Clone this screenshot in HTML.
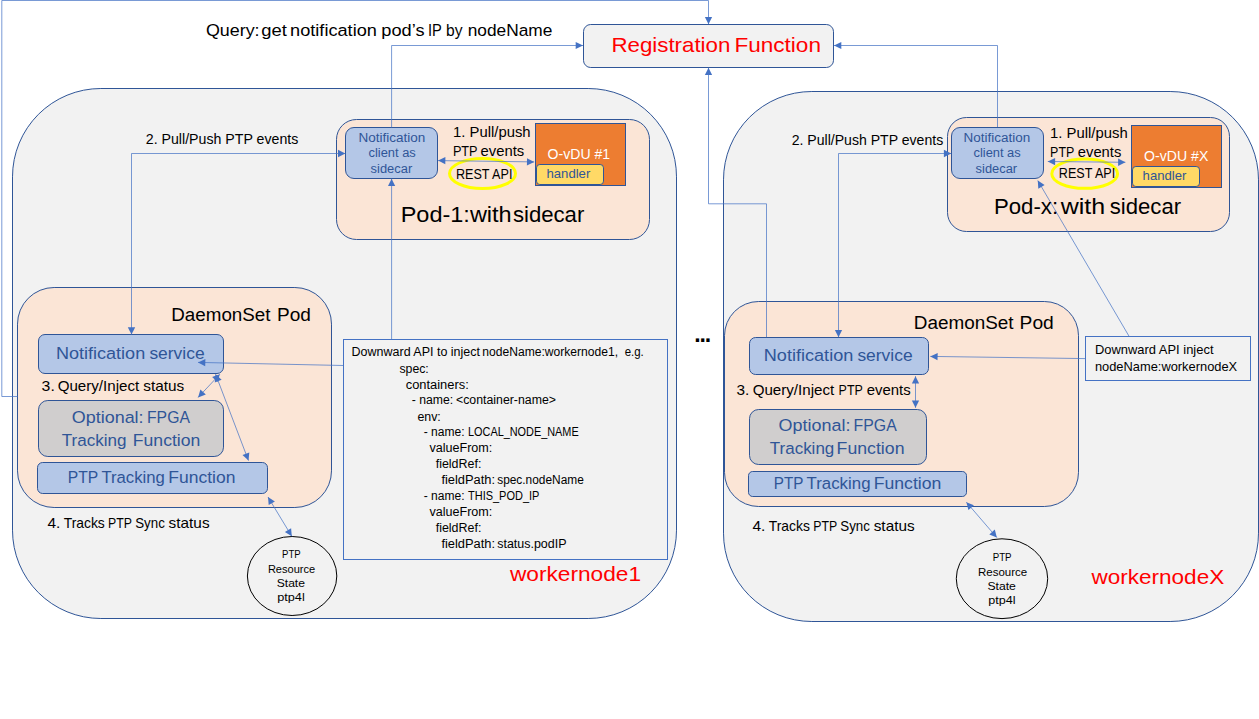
<!DOCTYPE html>
<html lang="en">
<head>
<meta charset="utf-8">
<title>PTP notification architecture</title>
<style>
html,body{margin:0;padding:0;background:#fff;}
body{width:1259px;height:719px;overflow:hidden;}
svg{display:block;}
svg text{font-family:"Liberation Sans",sans-serif;white-space:pre;}
</style>
</head>
<body>
<svg width="1259" height="719" viewBox="0 0 1259 719">
<rect x="0" y="0" width="1259" height="719" fill="#fff"/>
<rect x="12.5" y="88.5" width="664.0" height="530.0" rx="88.34" ry="88.34" fill="#F2F2F2" stroke="#2F5597" stroke-width="1"/>
<rect x="723.5" y="91.5" width="535.0" height="530.0" rx="88.34" ry="88.34" fill="#F2F2F2" stroke="#2F5597" stroke-width="1"/>
<rect x="583.5" y="24.5" width="250.0" height="43.0" rx="7.17" ry="7.17" fill="#F2F2F2" stroke="#2F5597" stroke-width="1"/>
<rect x="336.5" y="119.5" width="313.0" height="120.0" rx="20.0" ry="20.0" fill="#FBE5D6" stroke="#2F5597" stroke-width="1"/>
<rect x="947.5" y="117.5" width="282.0" height="114.0" rx="19.0" ry="19.0" fill="#FBE5D6" stroke="#2F5597" stroke-width="1"/>
<rect x="17.5" y="287.5" width="314.0" height="220.0" rx="36.67" ry="36.67" fill="#FBE5D6" stroke="#2F5597" stroke-width="1"/>
<rect x="724.5" y="301.5" width="354.0" height="205.0" rx="34.17" ry="34.17" fill="#FBE5D6" stroke="#2F5597" stroke-width="1"/>
<rect x="343.5" y="339.5" width="324" height="220" fill="#F2F2F2" stroke="#4472C4" stroke-width="1"/>
<rect x="1085.5" y="336.5" width="165" height="44" fill="#F2F2F2" stroke="#4472C4" stroke-width="1"/>
<rect x="345.5" y="127.5" width="92.0" height="51.0" rx="8.5" ry="8.5" fill="#B4C7E7" stroke="#2F5597" stroke-width="1"/>
<rect x="951.5" y="127.5" width="92.0" height="51.0" rx="8.5" ry="8.5" fill="#B4C7E7" stroke="#2F5597" stroke-width="1"/>
<rect x="535.5" y="123.5" width="90" height="62" fill="#ED7D31" stroke="#2F5597" stroke-width="1"/>
<rect x="1131.5" y="125.5" width="90" height="62" fill="#ED7D31" stroke="#2F5597" stroke-width="1"/>
<rect x="536.5" y="164.5" width="67.0" height="20.0" rx="3.33" ry="3.33" fill="#FFD966" stroke="#2F5597" stroke-width="1"/>
<rect x="1132.5" y="166.5" width="67.0" height="20.0" rx="3.33" ry="3.33" fill="#FFD966" stroke="#2F5597" stroke-width="1"/>
<ellipse cx="482.5" cy="173.6" rx="33" ry="15" fill="none" stroke="#FFFF00" stroke-width="3"/>
<ellipse cx="1084.7" cy="173.7" rx="32.9" ry="14.6" fill="none" stroke="#FFFF00" stroke-width="3"/>
<rect x="38.5" y="334.5" width="185.0" height="39.0" rx="6.5" ry="6.5" fill="#B4C7E7" stroke="#2F5597" stroke-width="1"/>
<rect x="749.5" y="337.5" width="179.0" height="37.0" rx="6.17" ry="6.17" fill="#B4C7E7" stroke="#2F5597" stroke-width="1"/>
<rect x="38.5" y="400.5" width="185.0" height="56.0" rx="9.33" ry="9.33" fill="#D0CECE" stroke="#2F5597" stroke-width="1"/>
<rect x="749.5" y="409.5" width="177.0" height="55.0" rx="9.17" ry="9.17" fill="#D0CECE" stroke="#2F5597" stroke-width="1"/>
<rect x="37.5" y="462.5" width="230.0" height="31.0" rx="5.17" ry="5.17" fill="#B4C7E7" stroke="#2F5597" stroke-width="1"/>
<rect x="748.5" y="471.5" width="218.0" height="25.0" rx="4.17" ry="4.17" fill="#B4C7E7" stroke="#2F5597" stroke-width="1"/>
<ellipse cx="292.1" cy="576" rx="44.7" ry="39.5" fill="#F2F2F2" stroke="#000" stroke-width="1"/>
<ellipse cx="1002" cy="578.7" rx="45.7" ry="39.9" fill="#F2F2F2" stroke="#000" stroke-width="1"/>
<polyline points="17.5,396.5 1.8,396.5 1.8,0.5 708.5,0.5 708.5,24.2" fill="none" stroke="#4472C4" stroke-width="0.72"/>
<polygon points="708.5,24.2 704.9,16.9 712.1,16.9" fill="#4472C4"/>
<polyline points="391.6,127.5 391.6,45.5 583,45.5" fill="none" stroke="#4472C4" stroke-width="0.72"/>
<polygon points="583.0,45.5 575.7,49.1 575.7,41.9" fill="#4472C4"/>
<polyline points="997.5,127 997.5,45.5 834,45.5" fill="none" stroke="#4472C4" stroke-width="0.72"/>
<polygon points="834.0,45.5 841.3,41.9 841.3,49.1" fill="#4472C4"/>
<polyline points="766.5,337.2 766.5,203.8 708.5,203.8 708.5,67.7" fill="none" stroke="#4472C4" stroke-width="0.72"/>
<polygon points="708.5,67.7 712.1,75.0 704.9,75.0" fill="#4472C4"/>
<polyline points="131.5,334.5 131.5,153.5 345.3,153.5" fill="none" stroke="#4472C4" stroke-width="0.72"/>
<polygon points="345.3,153.5 338.0,157.2 338.0,149.8" fill="#4472C4"/>
<polygon points="131.5,334.5 127.8,327.2 135.2,327.2" fill="#4472C4"/>
<polyline points="838.5,337.2 838.5,153.5 951.2,153.5" fill="none" stroke="#4472C4" stroke-width="0.72"/>
<polygon points="951.2,153.5 943.9,157.2 943.9,149.8" fill="#4472C4"/>
<polygon points="838.5,337.2 834.9,329.9 842.1,329.9" fill="#4472C4"/>
<polyline points="438.1,160.6 534.2,161.9" fill="none" stroke="#4472C4" stroke-width="0.72"/>
<polygon points="534.2,161.9 526.9,165.5 527.0,158.2" fill="#4472C4"/>
<polygon points="438.1,160.6 445.4,157.0 445.3,164.3" fill="#4472C4"/>
<polyline points="1047.8,161.5 1125.4,162.3" fill="none" stroke="#4472C4" stroke-width="0.72"/>
<polygon points="1125.4,162.3 1118.1,165.9 1118.1,158.6" fill="#4472C4"/>
<polygon points="1047.8,161.5 1055.1,157.9 1055.1,165.2" fill="#4472C4"/>
<polyline points="391.6,339.5 391.6,178.7" fill="none" stroke="#4472C4" stroke-width="0.72"/>
<polygon points="391.6,178.7 395.2,186.0 388.0,186.0" fill="#4472C4"/>
<polyline points="343.5,365.5 198,362.4" fill="none" stroke="#4472C4" stroke-width="0.72"/>
<polygon points="198.0,362.4 205.4,358.9 205.2,366.2" fill="#4472C4"/>
<polyline points="1085.5,358.6 930.3,356.4" fill="none" stroke="#4472C4" stroke-width="0.72"/>
<polygon points="930.3,356.4 937.7,352.9 937.5,360.2" fill="#4472C4"/>
<polyline points="1129.2,336.5 1037.8,180.6" fill="none" stroke="#4472C4" stroke-width="0.72"/>
<polygon points="1037.8,180.6 1044.6,185.1 1038.3,188.7" fill="#4472C4"/>
<polyline points="198.1,397.4 219.8,374.3" fill="none" stroke="#4472C4" stroke-width="0.72"/>
<polygon points="219.8,374.3 217.5,382.1 212.1,377.1" fill="#4472C4"/>
<polygon points="198.1,397.4 200.4,389.6 205.8,394.6" fill="#4472C4"/>
<polyline points="215.6,374.3 248.5,460.6" fill="none" stroke="#4472C4" stroke-width="0.72"/>
<polygon points="248.5,460.6 242.5,455.1 249.3,452.5" fill="#4472C4"/>
<polygon points="215.6,374.3 221.6,379.8 214.8,382.4" fill="#4472C4"/>
<polyline points="915.5,376.2 915.5,407.8" fill="none" stroke="#4472C4" stroke-width="0.72"/>
<polygon points="915.5,407.8 911.9,400.5 919.1,400.5" fill="#4472C4"/>
<polygon points="915.5,376.2 919.1,383.5 911.9,383.5" fill="#4472C4"/>
<polyline points="268,497 291.8,536.3" fill="none" stroke="#4472C4" stroke-width="0.72"/>
<polygon points="291.8,536.3 284.9,531.9 291.1,528.2" fill="#4472C4"/>
<polygon points="268.0,497.0 274.9,501.4 268.7,505.1" fill="#4472C4"/>
<polyline points="966.4,502.2 996.8,537.5" fill="none" stroke="#4472C4" stroke-width="0.72"/>
<polygon points="996.8,537.5 989.3,534.4 994.8,529.6" fill="#4472C4"/>
<polygon points="966.4,502.2 973.9,505.3 968.4,510.1" fill="#4472C4"/>
<text y="35.5" font-size="16.7" fill="#000"><tspan x="205.9" textLength="53.7" lengthAdjust="spacingAndGlyphs">Query:</tspan> <tspan x="261.2" textLength="25.6" lengthAdjust="spacingAndGlyphs">get</tspan> <tspan x="290.1" textLength="86.8" lengthAdjust="spacingAndGlyphs">notification</tspan> <tspan x="381.3" textLength="43.2" lengthAdjust="spacingAndGlyphs">pod’s</tspan> <tspan x="427.9" textLength="13.6" lengthAdjust="spacingAndGlyphs">IP</tspan> <tspan x="446.0" textLength="16.5" lengthAdjust="spacingAndGlyphs">by</tspan> <tspan x="467.7" textLength="84.6" lengthAdjust="spacingAndGlyphs">nodeName</tspan></text>
<text x="611.4" y="52.4" font-size="20.4" fill="#FF0000" textLength="119.0" lengthAdjust="spacingAndGlyphs">Registration</text>
<text x="734.4" y="52.4" font-size="20.4" fill="#FF0000" textLength="86.6" lengthAdjust="spacingAndGlyphs">Function</text>
<text x="145.8" y="144" font-size="14.4" fill="#000" textLength="152.5" lengthAdjust="spacingAndGlyphs">2. Pull/Push PTP events</text>
<text x="791.7" y="145" font-size="14.4" fill="#000" textLength="151.5" lengthAdjust="spacingAndGlyphs">2. Pull/Push PTP events</text>
<text x="358.5" y="141.7" font-size="12" fill="#2F5597" textLength="66.9" lengthAdjust="spacingAndGlyphs">Notification</text>
<text x="368.5" y="157.3" font-size="12" fill="#2F5597" textLength="47.3" lengthAdjust="spacingAndGlyphs">client as</text>
<text x="370.6" y="173" font-size="12" fill="#2F5597" textLength="41.6" lengthAdjust="spacingAndGlyphs">sidecar</text>
<text x="963.6" y="141.6" font-size="12" fill="#2F5597" textLength="66.7" lengthAdjust="spacingAndGlyphs">Notification</text>
<text x="973.5" y="156.9" font-size="12" fill="#2F5597" textLength="47.2" lengthAdjust="spacingAndGlyphs">client as</text>
<text x="975.6" y="172.9" font-size="12" fill="#2F5597" textLength="41.5" lengthAdjust="spacingAndGlyphs">sidecar</text>
<text x="453.1" y="137.3" font-size="14.4" fill="#000" textLength="77.5" lengthAdjust="spacingAndGlyphs">1. Pull/push</text>
<text x="452.9" y="155.7" font-size="14.4" fill="#000" textLength="24.7" lengthAdjust="spacingAndGlyphs">PTP</text>
<text x="480.6" y="155.7" font-size="14.4" fill="#000" textLength="43.7" lengthAdjust="spacingAndGlyphs">events</text>
<text x="456.0" y="178.9" font-size="14.4" fill="#000" textLength="56.4" lengthAdjust="spacingAndGlyphs">REST API</text>
<text x="1050.1" y="138.3" font-size="14.4" fill="#000" textLength="77.6" lengthAdjust="spacingAndGlyphs">1. Pull/push</text>
<text x="1050.1" y="156.6" font-size="14.4" fill="#000" textLength="24.2" lengthAdjust="spacingAndGlyphs">PTP</text>
<text x="1077.8" y="156.6" font-size="14.4" fill="#000" textLength="43.5" lengthAdjust="spacingAndGlyphs">events</text>
<text x="1058.8" y="178" font-size="14.4" fill="#000" textLength="56.4" lengthAdjust="spacingAndGlyphs">REST API</text>
<text x="547.6" y="158.9" font-size="14.4" fill="#fff" textLength="62.5" lengthAdjust="spacingAndGlyphs">O-vDU #1</text>
<text x="1144.1" y="160.8" font-size="14.4" fill="#fff" textLength="64.2" lengthAdjust="spacingAndGlyphs">O-vDU #X</text>
<text x="546.5" y="177.9" font-size="13.2" fill="#2F5597" textLength="43.8" lengthAdjust="spacingAndGlyphs">handler</text>
<text x="1142.6" y="179.5" font-size="13.2" fill="#2F5597" textLength="43.7" lengthAdjust="spacingAndGlyphs">handler</text>
<text y="221.5" font-size="21.6" fill="#000"><tspan x="400.7" textLength="111.0" lengthAdjust="spacingAndGlyphs">Pod-1:with</tspan> <tspan x="512.9" textLength="71.4" lengthAdjust="spacingAndGlyphs">sidecar</tspan></text>
<text y="213.5" font-size="21.6" fill="#000"><tspan x="994.0" textLength="64.1" lengthAdjust="spacingAndGlyphs">Pod-x:</tspan> <tspan x="1060.7" textLength="44.5" lengthAdjust="spacingAndGlyphs">with</tspan> <tspan x="1109.8" textLength="71.3" lengthAdjust="spacingAndGlyphs">sidecar</tspan></text>
<text x="171.3" y="320.8" font-size="19.2" fill="#000" textLength="99.2" lengthAdjust="spacingAndGlyphs">DaemonSet</text>
<text x="277.0" y="320.8" font-size="19.2" fill="#000" textLength="33.9" lengthAdjust="spacingAndGlyphs">Pod</text>
<text x="913.8" y="328.6" font-size="19.2" fill="#000" textLength="99.7" lengthAdjust="spacingAndGlyphs">DaemonSet</text>
<text x="1019.6" y="328.6" font-size="19.2" fill="#000" textLength="34.2" lengthAdjust="spacingAndGlyphs">Pod</text>
<text y="358.9" font-size="16.8" fill="#2F5597"><tspan x="55.9" textLength="89.3" lengthAdjust="spacingAndGlyphs">Notification</tspan> <tspan x="149.4" textLength="55.2" lengthAdjust="spacingAndGlyphs">service</tspan></text>
<text y="360.8" font-size="16.8" fill="#2F5597"><tspan x="763.8" textLength="89.5" lengthAdjust="spacingAndGlyphs">Notification</tspan> <tspan x="857.4" textLength="55.2" lengthAdjust="spacingAndGlyphs">service</tspan></text>
<text y="391" font-size="14.4" fill="#000"><tspan x="41.6" textLength="13.2" lengthAdjust="spacingAndGlyphs">3.</tspan> <tspan x="57.7" textLength="81.5" lengthAdjust="spacingAndGlyphs">Query/Inject</tspan> <tspan x="143.3" textLength="41.0" lengthAdjust="spacingAndGlyphs">status</tspan></text>
<text y="394.8" font-size="14.4" fill="#000"><tspan x="736.5" textLength="12.8" lengthAdjust="spacingAndGlyphs">3.</tspan> <tspan x="752.7" textLength="81.5" lengthAdjust="spacingAndGlyphs">Query/Inject</tspan> <tspan x="838.6" textLength="24.0" lengthAdjust="spacingAndGlyphs">PTP</tspan> <tspan x="866.7" textLength="43.9" lengthAdjust="spacingAndGlyphs">events</tspan></text>
<text y="422.9" font-size="16.8" fill="#2F5597"><tspan x="71.8" textLength="71.8" lengthAdjust="spacingAndGlyphs">Optional:</tspan> <tspan x="147.0" textLength="42.9" lengthAdjust="spacingAndGlyphs">FPGA</tspan></text>
<text y="445.8" font-size="16.8" fill="#2F5597"><tspan x="61.8" textLength="64.8" lengthAdjust="spacingAndGlyphs">Tracking</tspan> <tspan x="132.8" textLength="67.6" lengthAdjust="spacingAndGlyphs">Function</tspan></text>
<text y="430.8" font-size="16.8" fill="#2F5597"><tspan x="778.6" textLength="71.8" lengthAdjust="spacingAndGlyphs">Optional:</tspan> <tspan x="853.6" textLength="43.1" lengthAdjust="spacingAndGlyphs">FPGA</tspan></text>
<text y="453.5" font-size="16.8" fill="#2F5597"><tspan x="769.8" textLength="64.5" lengthAdjust="spacingAndGlyphs">Tracking</tspan> <tspan x="836.6" textLength="67.9" lengthAdjust="spacingAndGlyphs">Function</tspan></text>
<text y="482.8" font-size="16.8" fill="#2F5597"><tspan x="67.8" textLength="30.2" lengthAdjust="spacingAndGlyphs">PTP</tspan> <tspan x="101.4" textLength="63.5" lengthAdjust="spacingAndGlyphs">Tracking</tspan> <tspan x="168.3" textLength="67.1" lengthAdjust="spacingAndGlyphs">Function</tspan></text>
<text y="488.6" font-size="16.8" fill="#2F5597"><tspan x="773.8" textLength="29.3" lengthAdjust="spacingAndGlyphs">PTP</tspan> <tspan x="806.6" textLength="63.9" lengthAdjust="spacingAndGlyphs">Tracking</tspan> <tspan x="873.7" textLength="67.7" lengthAdjust="spacingAndGlyphs">Function</tspan></text>
<text y="528.1" font-size="14.4" fill="#000"><tspan x="47.4" textLength="12.9" lengthAdjust="spacingAndGlyphs">4.</tspan> <tspan x="63.7" textLength="41.1" lengthAdjust="spacingAndGlyphs">Tracks</tspan> <tspan x="108.1" textLength="23.7" lengthAdjust="spacingAndGlyphs">PTP</tspan> <tspan x="135.2" textLength="29.6" lengthAdjust="spacingAndGlyphs">Sync</tspan> <tspan x="168.6" textLength="41.0" lengthAdjust="spacingAndGlyphs">status</tspan></text>
<text y="530.5" font-size="14.4" fill="#000"><tspan x="752.5" textLength="12.9" lengthAdjust="spacingAndGlyphs">4.</tspan> <tspan x="768.8" textLength="41.1" lengthAdjust="spacingAndGlyphs">Tracks</tspan> <tspan x="813.2" textLength="23.7" lengthAdjust="spacingAndGlyphs">PTP</tspan> <tspan x="840.3" textLength="29.6" lengthAdjust="spacingAndGlyphs">Sync</tspan> <tspan x="873.7" textLength="41.0" lengthAdjust="spacingAndGlyphs">status</tspan></text>
<text x="282.1" y="557.7" font-size="10.8" fill="#000" textLength="18.6" lengthAdjust="spacingAndGlyphs">PTP</text>
<text x="267.9" y="572.8" font-size="10.8" fill="#000" textLength="47.2" lengthAdjust="spacingAndGlyphs">Resource</text>
<text x="276.7" y="586.8" font-size="10.8" fill="#000" textLength="28.3" lengthAdjust="spacingAndGlyphs">State</text>
<text x="277.2" y="600.6" font-size="10.8" fill="#000" textLength="27.6" lengthAdjust="spacingAndGlyphs">ptp4l</text>
<text x="992.7" y="560.8" font-size="10.8" fill="#000" textLength="18.9" lengthAdjust="spacingAndGlyphs">PTP</text>
<text x="978.0" y="575.7" font-size="10.8" fill="#000" textLength="49.2" lengthAdjust="spacingAndGlyphs">Resource</text>
<text x="987.4" y="589.7" font-size="10.8" fill="#000" textLength="28.5" lengthAdjust="spacingAndGlyphs">State</text>
<text x="988.3" y="603.7" font-size="10.8" fill="#000" textLength="27.3" lengthAdjust="spacingAndGlyphs">ptp4l</text>
<text x="351.6" y="356.2" font-size="12" fill="#000" textLength="128.4" lengthAdjust="spacingAndGlyphs">Downward API to inject</text>
<text x="482.3" y="356.2" font-size="12" fill="#000" textLength="135.8" lengthAdjust="spacingAndGlyphs">nodeName:workernode1,</text>
<text x="624.7" y="356.2" font-size="12" fill="#000" textLength="19.1" lengthAdjust="spacingAndGlyphs">e.g.</text>
<text x="399.4" y="372.5" font-size="12" fill="#000" textLength="29.4" lengthAdjust="spacingAndGlyphs">spec:</text>
<text x="405.7" y="388.5" font-size="12" fill="#000" textLength="63.1" lengthAdjust="spacingAndGlyphs">containers:</text>
<text x="411.7" y="404.3" font-size="12" fill="#000" textLength="41.4" lengthAdjust="spacingAndGlyphs">- name:</text>
<text x="456.0" y="404.3" font-size="12" fill="#000" textLength="100.0" lengthAdjust="spacingAndGlyphs">&lt;container-name&gt;</text>
<text x="417.4" y="420.5" font-size="12" fill="#000" textLength="23.4" lengthAdjust="spacingAndGlyphs">env:</text>
<text x="423.7" y="436.3" font-size="12" fill="#000" textLength="40.8" lengthAdjust="spacingAndGlyphs">- name:</text>
<text x="468.0" y="436.3" font-size="12" fill="#000" textLength="110.7" lengthAdjust="spacingAndGlyphs">LOCAL_NODE_NAME</text>
<text x="429.4" y="452.1" font-size="12" fill="#000" textLength="62.9" lengthAdjust="spacingAndGlyphs">valueFrom:</text>
<text x="435.7" y="468.2" font-size="12" fill="#000" textLength="45.7" lengthAdjust="spacingAndGlyphs">fieldRef:</text>
<text x="441.4" y="484.2" font-size="12" fill="#000" textLength="53.7" lengthAdjust="spacingAndGlyphs">fieldPath:</text>
<text x="497.2" y="484.2" font-size="12" fill="#000" textLength="86.6" lengthAdjust="spacingAndGlyphs">spec.nodeName</text>
<text x="423.7" y="500.1" font-size="12" fill="#000" textLength="40.8" lengthAdjust="spacingAndGlyphs">- name:</text>
<text x="468.0" y="500.1" font-size="12" fill="#000" textLength="71.4" lengthAdjust="spacingAndGlyphs">THIS_POD_IP</text>
<text x="429.4" y="516.0" font-size="12" fill="#000" textLength="62.9" lengthAdjust="spacingAndGlyphs">valueFrom:</text>
<text x="435.7" y="532.0" font-size="12" fill="#000" textLength="45.7" lengthAdjust="spacingAndGlyphs">fieldRef:</text>
<text x="441.4" y="548.1" font-size="12" fill="#000" textLength="53.7" lengthAdjust="spacingAndGlyphs">fieldPath:</text>
<text x="497.2" y="548.1" font-size="12" fill="#000" textLength="69.3" lengthAdjust="spacingAndGlyphs">status.podIP</text>
<text x="1094.9" y="353.8" font-size="12.6" fill="#000" textLength="118.6" lengthAdjust="spacingAndGlyphs">Downward API inject</text>
<text x="1094.9" y="370.7" font-size="12.6" fill="#000" textLength="142.3" lengthAdjust="spacingAndGlyphs">nodeName:workernodeX</text>
<text x="509.9" y="580.7" font-size="20.8" fill="#FF0000" textLength="131.2" lengthAdjust="spacingAndGlyphs">workernode1</text>
<text x="1091.5" y="583.6" font-size="20.8" fill="#FF0000" textLength="132.7" lengthAdjust="spacingAndGlyphs">workernodeX</text>
<text x="694.2" y="341.6" font-size="23" font-weight="bold" textLength="17" lengthAdjust="spacing">...</text>
</svg>
</body>
</html>
